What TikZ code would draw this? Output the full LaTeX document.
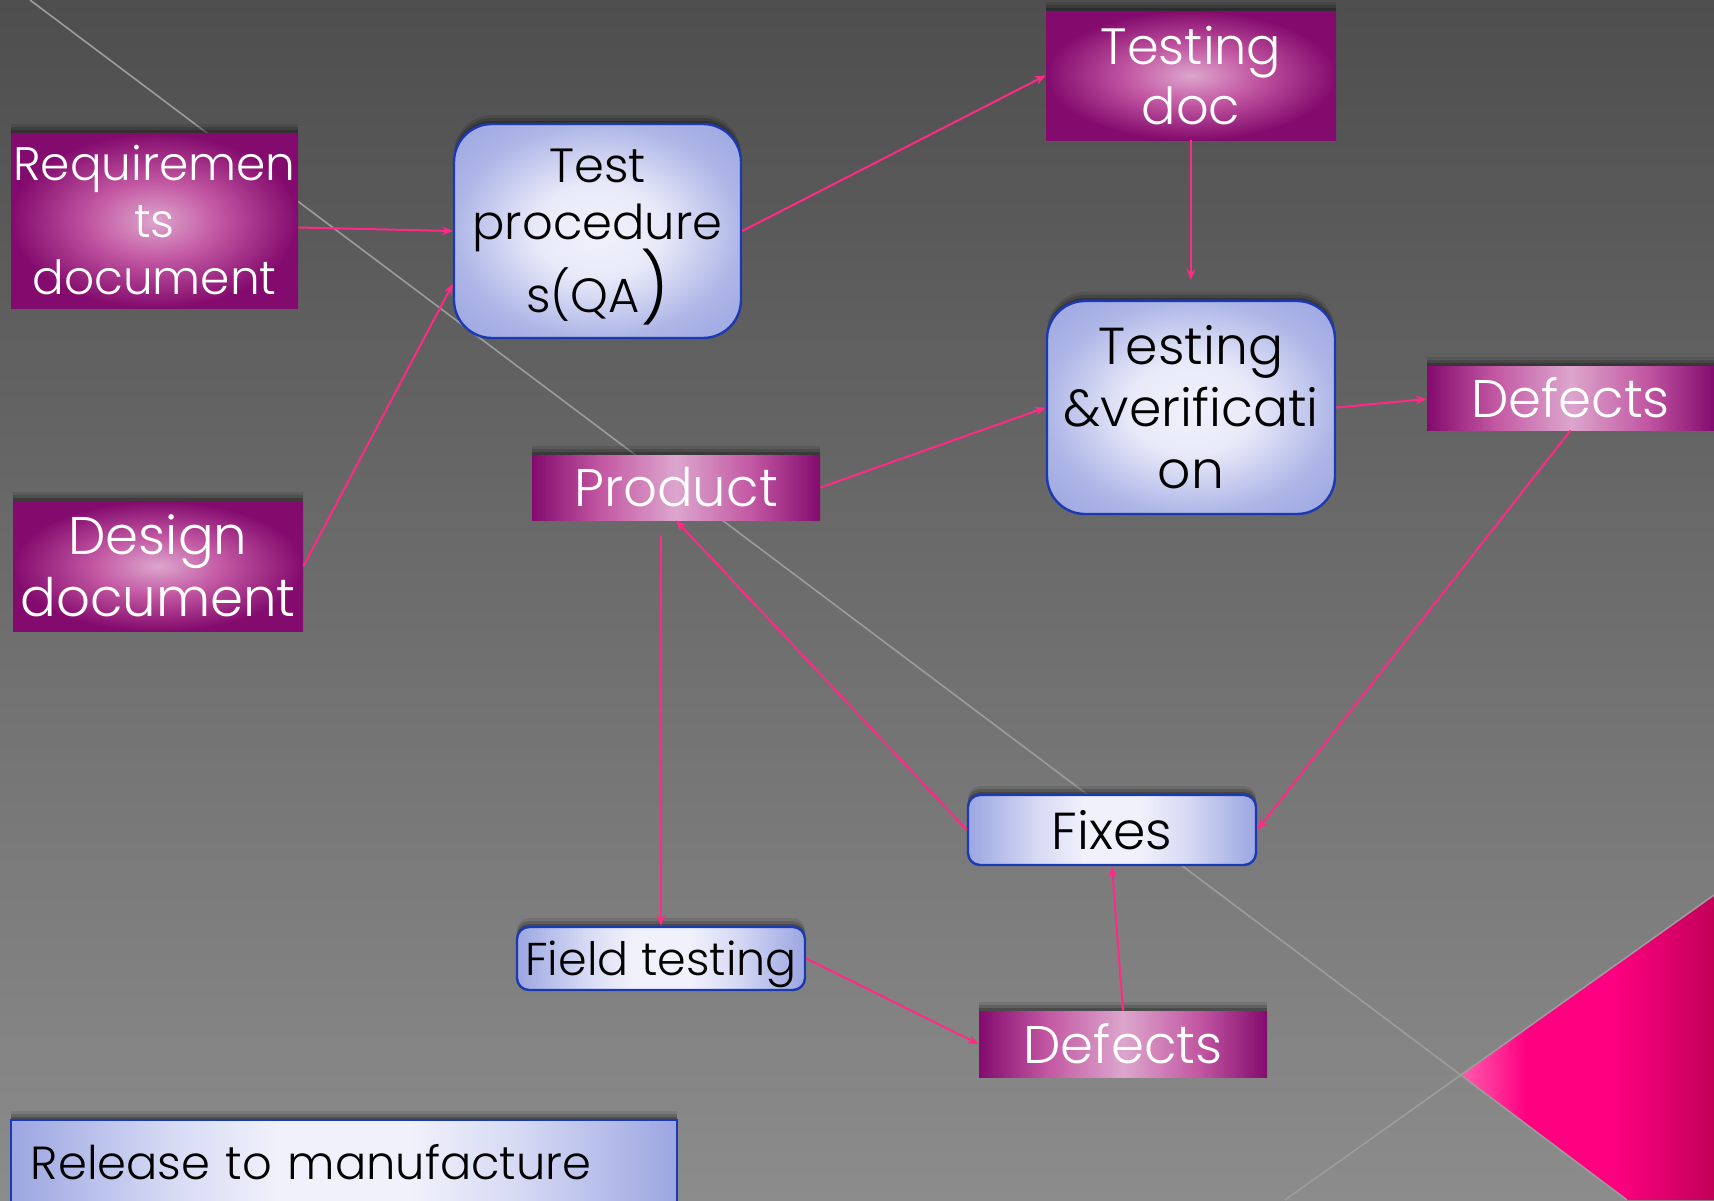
\documentclass[tikz,border=0pt]{standalone}
\usepackage{fontspec}
\setmainfont{Poppins Light}
\usetikzlibrary{calc,arrows.meta,shadows}

\definecolor{bgtop}{HTML}{4E4E4E}
\definecolor{bgbot}{HTML}{8C8C8C}
\definecolor{streak}{HTML}{9C9C9C}
\definecolor{arrowpink}{HTML}{FF2A85}
\definecolor{mdark}{HTML}{830B6D}
\definecolor{mmid}{HTML}{C358A3}
\definecolor{mlight}{HTML}{DCA6CD}
\definecolor{bedge}{HTML}{9CA6E1}
\definecolor{bside}{HTML}{AEB6E7}
\definecolor{bmid}{HTML}{D6DAF4}
\definecolor{bsoft}{HTML}{E8EAF9}
\definecolor{blight}{HTML}{F1F1FB}
\definecolor{bborder}{HTML}{1B3AB2}
\definecolor{pinkA}{HTML}{FF5CAD}
\definecolor{pinkB}{HTML}{FF0080}
\definecolor{pinkC}{HTML}{C20058}

% fills of the boxes
\pgfdeclareradialshading{magradial}{\pgfpointorigin}{color(0bp)=(mlight); color(11bp)=(mmid); color(25bp)=(mdark); color(50bp)=(mdark)}
\pgfdeclarehorizontalshading{magbar}{100bp}{color(0bp)=(mdark); color(25bp)=(mdark); color(37bp)=(mmid); color(50bp)=(mlight); color(63bp)=(mmid); color(75bp)=(mdark); color(100bp)=(mdark)}
\pgfdeclareradialshading{bluradial}{\pgfpointorigin}{color(0bp)=(blight); color(11bp)=(bsoft); color(25bp)=(bside); color(35bp)=(bedge); color(50bp)=(bedge)}
\pgfdeclarehorizontalshading{blubar}{100bp}{color(0bp)=(bedge); color(25bp)=(bedge); color(37bp)=(bmid); color(45bp)=(blight); color(55bp)=(blight); color(63bp)=(bmid); color(75bp)=(bedge); color(100bp)=(bedge)}
% corner wedge
\pgfdeclarehorizontalshading{wedge}{100bp}{color(0bp)=(pinkA); color(25bp)=(pinkA); color(38bp)=(pinkB); color(55bp)=(pinkB); color(75bp)=(pinkC); color(100bp)=(pinkC)}

\tikzset{
  boxshadow/.style={
    general shadow={fill=black, opacity=.22, shadow yshift=1.5pt},
    general shadow={fill=black, opacity=.16, shadow yshift=3pt},
    general shadow={fill=black, opacity=.10, shadow yshift=4.5pt}},
  magbox/.style={rectangle, inner sep=0pt, text=white, align=center,
    boxshadow, shade, shading=magradial},
  magline/.style={magbox, shading=magbar},
  blubox/.style={rectangle, rounded corners=19pt, inner sep=0pt, text=black,
    align=center, draw=bborder, line width=1.2pt, boxshadow, shade, shading=bluradial},
  bluline/.style={blubox, rounded corners=6pt, shading=blubar},
  link/.style={draw=arrowpink, line width=1pt,
    -{Stealth[length=5.5pt,width=4.5pt,inset=2pt]}},
}

\begin{document}
\begin{tikzpicture}[x=0.5pt, y=-0.5pt]
\useasboundingbox (0,0) rectangle (1714,1200);
\clip (0,0) rectangle (1714,1200);

% backdrop
\shade[top color=bgtop, bottom color=bgbot] (0,0) rectangle (1714,1200);
\shade[shading=wedge]
  (1461,1075) -- (1714,895) -- (1714,1200) -- (1627,1200) -- cycle;
\draw[streak, line width=0.8pt] (30,0) -- (1627,1200);
\draw[streak, line width=0.8pt] (1285,1200) -- (1714,895);

% boxes
\node[magbox, minimum width=143.5pt, minimum height=87.5pt,
  font=\fontsize{23.5}{28.5}\selectfont] (req) at (154.5,220.5)
  {Requiremen\\ts\\document};
\node[magbox, minimum width=145pt, minimum height=65pt,
  font=\fontsize{26.5}{31}\selectfont] (design) at (158,566)
  {Design\\document};
\node[blubox, minimum width=143.5pt, minimum height=107pt,
  font=\fontsize{24}{28.5}\selectfont] (testproc) at (597.5,231)
  {\rule{0pt}{23pt}Test\\procedure\\[-2.5pt]s(QA{\fontsize{34}{34}\selectfont)}};
\node[magbox, minimum width=145pt, minimum height=64.5pt,
  font=\fontsize{25.5}{30}\selectfont] (testdoc) at (1191,75.5)
  {Testing\\doc};
\node[blubox, minimum width=144pt, minimum height=106.5pt,
  font=\fontsize{26}{31}\selectfont] (testver) at (1191,407.5)
  {Testing\\\&verificati\\on};
\node[magline, minimum width=143.5pt, minimum height=32pt,
  font=\fontsize{26.5}{30}\selectfont] (defects1) at (1570.5,398)
  {Defects};
\node[magline, minimum width=144pt, minimum height=32.5pt,
  font=\fontsize{26.5}{30}\selectfont] (product) at (676,487.5)
  {Product};
\node[bluline, minimum width=144pt, minimum height=35pt,
  font=\fontsize{26}{30}\selectfont] (fixes) at (1112,830)
  {Fixes};
\node[bluline, minimum width=144pt, minimum height=31.5pt, text depth=0pt,
  font=\fontsize{23}{28}\selectfont] (field) at (661,958.5)
  {Field testing};
\node[magline, minimum width=144pt, minimum height=33pt,
  font=\fontsize{26.5}{30}\selectfont] (defects2) at (1123,1044)
  {Defects};
\node[bluline, rounded corners=0pt, minimum height=42pt, inner xsep=10pt,
  text width=313pt, align=left, font=\fontsize{23.2}{28}\selectfont]
  (release) at (344,1162) {Release to manufacture};

% connectors
\draw[link] ($(req.east)+(0,7)$) -- (testproc.west);
\draw[link] (design.east) -- ($(testproc.west)+(0,53)$);
\draw[link] (testproc.east) -- (testdoc.west);
\draw[link] (testdoc.south) -- ($(testver.north)+(0,-20)$);
\draw[link] (product.east) -- (testver.west);
\draw[link] (testver.east) -- ($(defects1.west)+(0,1)$);
\draw[link] (defects1.south) -- (fixes.east);
\draw[link] (fixes.west) -- (product.south);
\draw[link] ($(field.north |- product.south)+(0,16)$) -- (field.north);
\draw[link] (field.east) -- (defects2.west);
\draw[link] (defects2.north) -- (fixes.south);
\end{tikzpicture}
\end{document}
